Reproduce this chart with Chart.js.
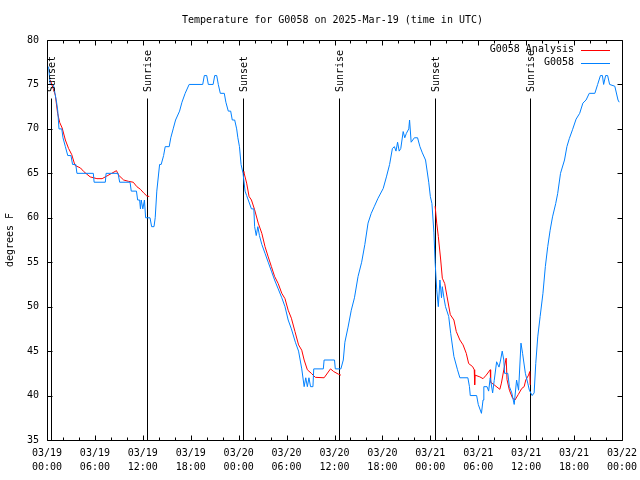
<!DOCTYPE html>
<html><head><meta charset="utf-8">
<script src="https://cdn.jsdelivr.net/npm/chart.js@4.4.1/dist/chart.umd.min.js"></script>
<style>html,body{margin:0;padding:0;background:#fff;}#wrap{width:640px;height:480px;}</style>
</head><body><div id="wrap"><canvas id="c" width="640" height="480"></canvas></div>
<script>
const chartTitle = 'Temperature for G0058 on 2025-Mar-19 (time in UTC)';
const yAxisTitle = 'degrees F';
const seriesNames = ['G0058 Analysis', 'G0058'];

// hours since 2025-03-19 00:00 UTC
const obsHours = [
 0.2,0.4,0.8,1.0,1.2,1.35,1.5,1.85,2.0,2.3,
 2.6,3.0,3.2,3.6,3.75,5.8,5.9,7.3,7.4,8.9,
 9.1,10.4,10.55,11.2,11.35,11.6,11.7,11.8,12.0,12.2,
 12.35,12.9,13.1,13.4,13.55,13.75,14.1,14.3,14.6,14.8,
 15.3,15.5,15.8,16.1,16.6,16.9,17.3,17.8,19.5,19.7,
 20.0,20.2,20.8,21.0,21.25,21.45,21.7,22.2,22.4,22.7,
 23.0,23.2,23.5,23.75,23.9,24.1,24.3,24.55,24.8,25.0,
 25.2,25.6,25.9,26.0,26.2,26.4,26.6,26.9,27.3,27.7,
 28.1,28.5,28.95,29.4,29.8,30.2,30.6,31.1,31.5,31.9,
 32.2,32.4,32.6,32.8,33.0,33.3,33.4,34.6,34.7,36.0,
 36.1,36.8,37.1,37.3,37.7,38.1,38.5,38.95,39.4,39.8,
 40.2,40.6,41.0,41.45,42.1,42.5,42.9,43.25,43.5,43.7,
 43.9,44.1,44.3,44.6,44.8,45.0,45.3,45.4,45.6,46.0,
 46.4,46.7,47.0,47.4,47.8,48.0,48.2,48.45,48.6,48.8,
 49.0,49.2,49.4,49.5,49.7,49.9,50.3,50.55,50.95,51.4,
 51.7,52.7,52.9,53.0,53.8,54.0,54.4,54.6,54.7,55.1,
 55.3,55.5,55.8,56.0,56.3,56.6,56.8,57.0,57.2,57.3,
 57.7,57.9,58.2,58.5,58.8,59.05,59.35,59.55,59.9,60.2,
 60.4,60.75,61.0,61.2,61.45,61.75,62.1,62.4,62.7,63.0,
 63.3,63.7,63.95,64.3,64.8,65.1,65.4,65.8,66.25,66.7,
 67.1,67.5,67.9,68.6,68.95,69.3,69.55,69.7,69.95,70.2,
 70.45,71.1,71.5,71.65
];
const obsTemps = [
 77,75,75,74,73,72,70,70,69,68,
 67,67,66,66,65,65,64,64,65,65,
 64,64,63,63,62,62,61,62,61,62,
 60,60,59,59,60,63,66,66,67,68,
 68,69,70,71,72,73,74,75,75,76,
 76,75,75,76,76,75,74,74,73,72,
 72,71,71,70,69,68,66,65,63,62.5,
 62,61,61,59,58,59,58,57,56,55,
 54,53,52,51,50,48.5,47.5,46,45,43,
 41,42,41,42,41,41,43,43,44,44,
 43,43,44,46,47.7,49.6,51,53.4,55,57,
 59.4,60.5,61.3,62.2,63.3,64.6,66,67.8,68,67.5,
 68.5,67.5,67.8,69.7,69,69.5,70,71,68.5,69,
 69,68,67.3,66.5,64,62.4,61.6,58.3,55,51.9,
 50,53,51,52.25,51,50,48.9,47,44.4,42.9,
 42,42,41,40,40,39,38,39.5,41,41,
 40.5,42,40.3,41.7,43.8,43.2,44,45,44,42.5,
 42.5,41,40.3,39,41.75,40.6,45.9,44.75,42.5,41.4,
 40.6,40,40.3,43.6,46.6,48.9,51.5,54.5,56.75,58.6,
 60.1,61.6,62.75,65,66.5,68,68.9,69.9,71.1,71.75,
 72.9,73.25,74,74,75,76,76,75,76,76,
 75,74.8,73.25,73
];

const anaHours = [
 0.42,1.04,1.33,1.6,1.9,2.3,2.7,3.1,3.5,4.2,
 4.6,5.4,6.25,6.9,7.5,8.1,8.7,8.96,9.6,10.2,
 10.8,11.25,11.7,12.1,12.5,12.8,
 18,
 24.55,24.66,25.0,25.3,25.6,26.0,26.45,26.9,27.3,27.7,
 28.1,28.5,28.95,29.4,29.8,30.2,30.6,31.05,31.5,31.9,
 32.2,32.6,33.1,33.6,34.7,35.5,35.9,36.5,36.8,
 42,
 48.6,48.8,49.0,49.3,49.5,49.8,50.1,50.5,50.95,51.25,
 51.7,52.1,52.5,52.8,53.3,53.5,53.55,53.6,54.2,54.6,
 55.0,55.5,55.55,56.0,56.7,56.9,57.2,57.5,57.6,57.9,
 58.3,58.6,59.0,59.45,59.75,59.95,60.3,60.45,60.5
];
const anaTemps = [
 75.5,73.8,71.75,70.7,70.1,68.75,67.8,67.1,65.9,65.6,
 65.2,64.6,64.4,64.4,64.7,65,65.3,64.8,64.25,64.1,
 64,63.5,63.2,62.8,62.45,62.4,
 null,
 65.2,65.1,63.9,62.4,62,60.9,59.4,58.25,56.75,55.6,
 54.5,53.4,52.6,51.5,50.9,49.6,48.7,47.2,45.7,45.1,
 44,42.9,42.5,42.05,42,43,42.7,42.4,42.3,
 null,
 61.3,59.4,57.9,55.25,53.2,52.6,51.1,49.1,48.5,47.2,
 46.25,45.7,44.75,43.6,43.25,42.9,41.2,42.3,42.1,41.9,
 42.3,42.9,41.5,41.2,40.7,41.4,42.9,44.2,41.8,40.6,
 39.7,39.5,40.1,40.8,41.0,41.75,42.3,42.7,41.2
];

const sunHours  = [0.55, 12.55, 24.55, 36.6, 48.6, 60.45];
const sunLabels = ['Sunset','Sunrise','Sunset','Sunrise','Sunset','Sunrise'];
const sunLineTop = 73.5;
const sunLabelBase = 74.15;

const tickHours = [0,6,12,18,24,30,36,42,48,54,60,66,72];
const tickDates = ['03/19','03/19','03/19','03/19','03/20','03/20','03/20','03/20','03/21','03/21','03/21','03/21','03/22'];
const tickTimes = ['00:00','06:00','12:00','18:00','00:00','06:00','12:00','18:00','00:00','06:00','12:00','18:00','00:00'];
const yTicks = [35,40,45,50,55,60,65,70,75,80];

const FONT = '10px "DejaVu Sans Mono", "Liberation Mono", monospace';
const RED = '#ff0000', BLUE = '#0080ff';

function pts(h, v){ const n = Math.min(h.length, v.length); const out=[]; for(let i=0;i<n;i++) out.push({x:h[i], y:v[i]}); return out; }

const decor = {
  id: 'decor',
  beforeDatasetsDraw(chart){
    const ctx = chart.ctx, xs = chart.scales.x, ys = chart.scales.y;
    ctx.save();
    ctx.strokeStyle = '#000'; ctx.lineWidth = 1;
    const yTop = Math.round(ys.getPixelForValue(sunLineTop)) + 0.5;
    const yBot = ys.getPixelForValue(35);
    sunHours.forEach(h => {
      const x = Math.round(xs.getPixelForValue(h)) + 0.5;
      ctx.beginPath(); ctx.moveTo(x, yTop); ctx.lineTo(x, yBot); ctx.stroke();
    });
    ctx.restore();
  },
  afterDatasetsDraw(chart){
    const ctx = chart.ctx, xs = chart.scales.x, ys = chart.scales.y, a = chart.chartArea;
    ctx.save();
    ctx.strokeStyle = '#000'; ctx.lineWidth = 1;
    const L = Math.round(a.left)+0.5, R = Math.round(a.right)+0.5, T = Math.round(a.top)+0.5, B = Math.round(a.bottom)+0.5;
    ctx.beginPath(); ctx.rect(L, T, R-L, B-T); ctx.stroke();
    for (let h = 0; h <= 72; h += 2) {
      const major = h % 6 === 0;
      const len = major ? 5 : 3;
      const x = Math.round(xs.getPixelForValue(h)) + 0.5;
      ctx.beginPath();
      ctx.moveTo(x, B); ctx.lineTo(x, B - len);
      ctx.moveTo(x, T); ctx.lineTo(x, T + len);
      ctx.stroke();
    }
    yTicks.forEach(v => {
      const y = Math.round(ys.getPixelForValue(v)) + 0.5;
      ctx.beginPath();
      ctx.moveTo(L, y); ctx.lineTo(L + 5, y);
      ctx.moveTo(R, y); ctx.lineTo(R - 5, y);
      ctx.stroke();
    });
    ctx.fillStyle = '#000'; ctx.font = FONT;
    const yl = ys.getPixelForValue(sunLabelBase);
    sunHours.forEach((h, i) => {
      const x = xs.getPixelForValue(h) + 1.5;
      ctx.save(); ctx.translate(x, yl); ctx.rotate(-Math.PI/2);
      ctx.textAlign = 'left'; ctx.textBaseline = 'middle';
      ctx.fillText(sunLabels[i], 0, 0);
      ctx.restore();
    });
    ctx.textAlign = 'center'; ctx.textBaseline = 'middle';
    ctx.fillText(chartTitle, (a.left + a.right)/2 - 2, 20);
    ctx.save(); ctx.translate(10, (a.top + a.bottom)/2); ctx.rotate(-Math.PI/2);
    ctx.fillText(yAxisTitle, 0, 0); ctx.restore();
    const lx = a.right - 48, ly = a.top + 9.5;
    ctx.textAlign = 'right';
    [RED, BLUE].forEach((c, i) => {
      const y = ly + i * 13;
      ctx.fillStyle = '#000';
      ctx.fillText(seriesNames[i], lx, y);
      ctx.strokeStyle = c;
      ctx.beginPath(); ctx.moveTo(lx + 7, Math.round(y)+0.5); ctx.lineTo(lx + 36, Math.round(y)+0.5); ctx.stroke();
    });
    ctx.restore();
  }
};

new Chart(document.getElementById('c'), {
  type: 'line',
  data: {
    datasets: [
      { label: seriesNames[1], data: pts(obsHours, obsTemps), borderColor: BLUE, borderWidth: 1, pointRadius: 0, tension: 0, fill: false, spanGaps: false, order: 0 },
      { label: seriesNames[0], data: pts(anaHours, anaTemps), borderColor: RED, borderWidth: 1, pointRadius: 0, tension: 0, fill: false, spanGaps: false, order: 1 }
    ]
  },
  options: {
    responsive: false, animation: false, devicePixelRatio: 1,
    layout: { padding: { top: 40, right: 18, left: 0, bottom: 0 } },
    plugins: { legend: { display: false }, title: { display: false }, tooltip: { enabled: false } },
    scales: {
      x: {
        type: 'linear', min: 0, max: 72,
        grid: { display: false, drawTicks: false }, border: { display: false },
        afterFit(s){ s.height = 40; s.paddingLeft = 0; s.paddingRight = 0; },
        ticks: {
          stepSize: 6, autoSkip: false, maxRotation: 0, minRotation: 0, padding: 7,
          color: '#000', font: { family: '"DejaVu Sans Mono", "Liberation Mono", monospace', size: 10, lineHeight: 1.35 },
          callback(v){ const i = tickHours.indexOf(v); return i < 0 ? '' : [tickDates[i], tickTimes[i]]; }
        }
      },
      y: {
        type: 'linear', min: 35, max: 80,
        grid: { display: false, drawTicks: false }, border: { display: false },
        afterFit(s){ s.width = 47; s.paddingTop = 0; s.paddingBottom = 0; },
        ticks: {
          stepSize: 5, padding: 8, color: '#000',
          font: { family: '"DejaVu Sans Mono", "Liberation Mono", monospace', size: 10 }
        }
      }
    }
  },
  plugins: [decor]
});
</script>
</body></html>
